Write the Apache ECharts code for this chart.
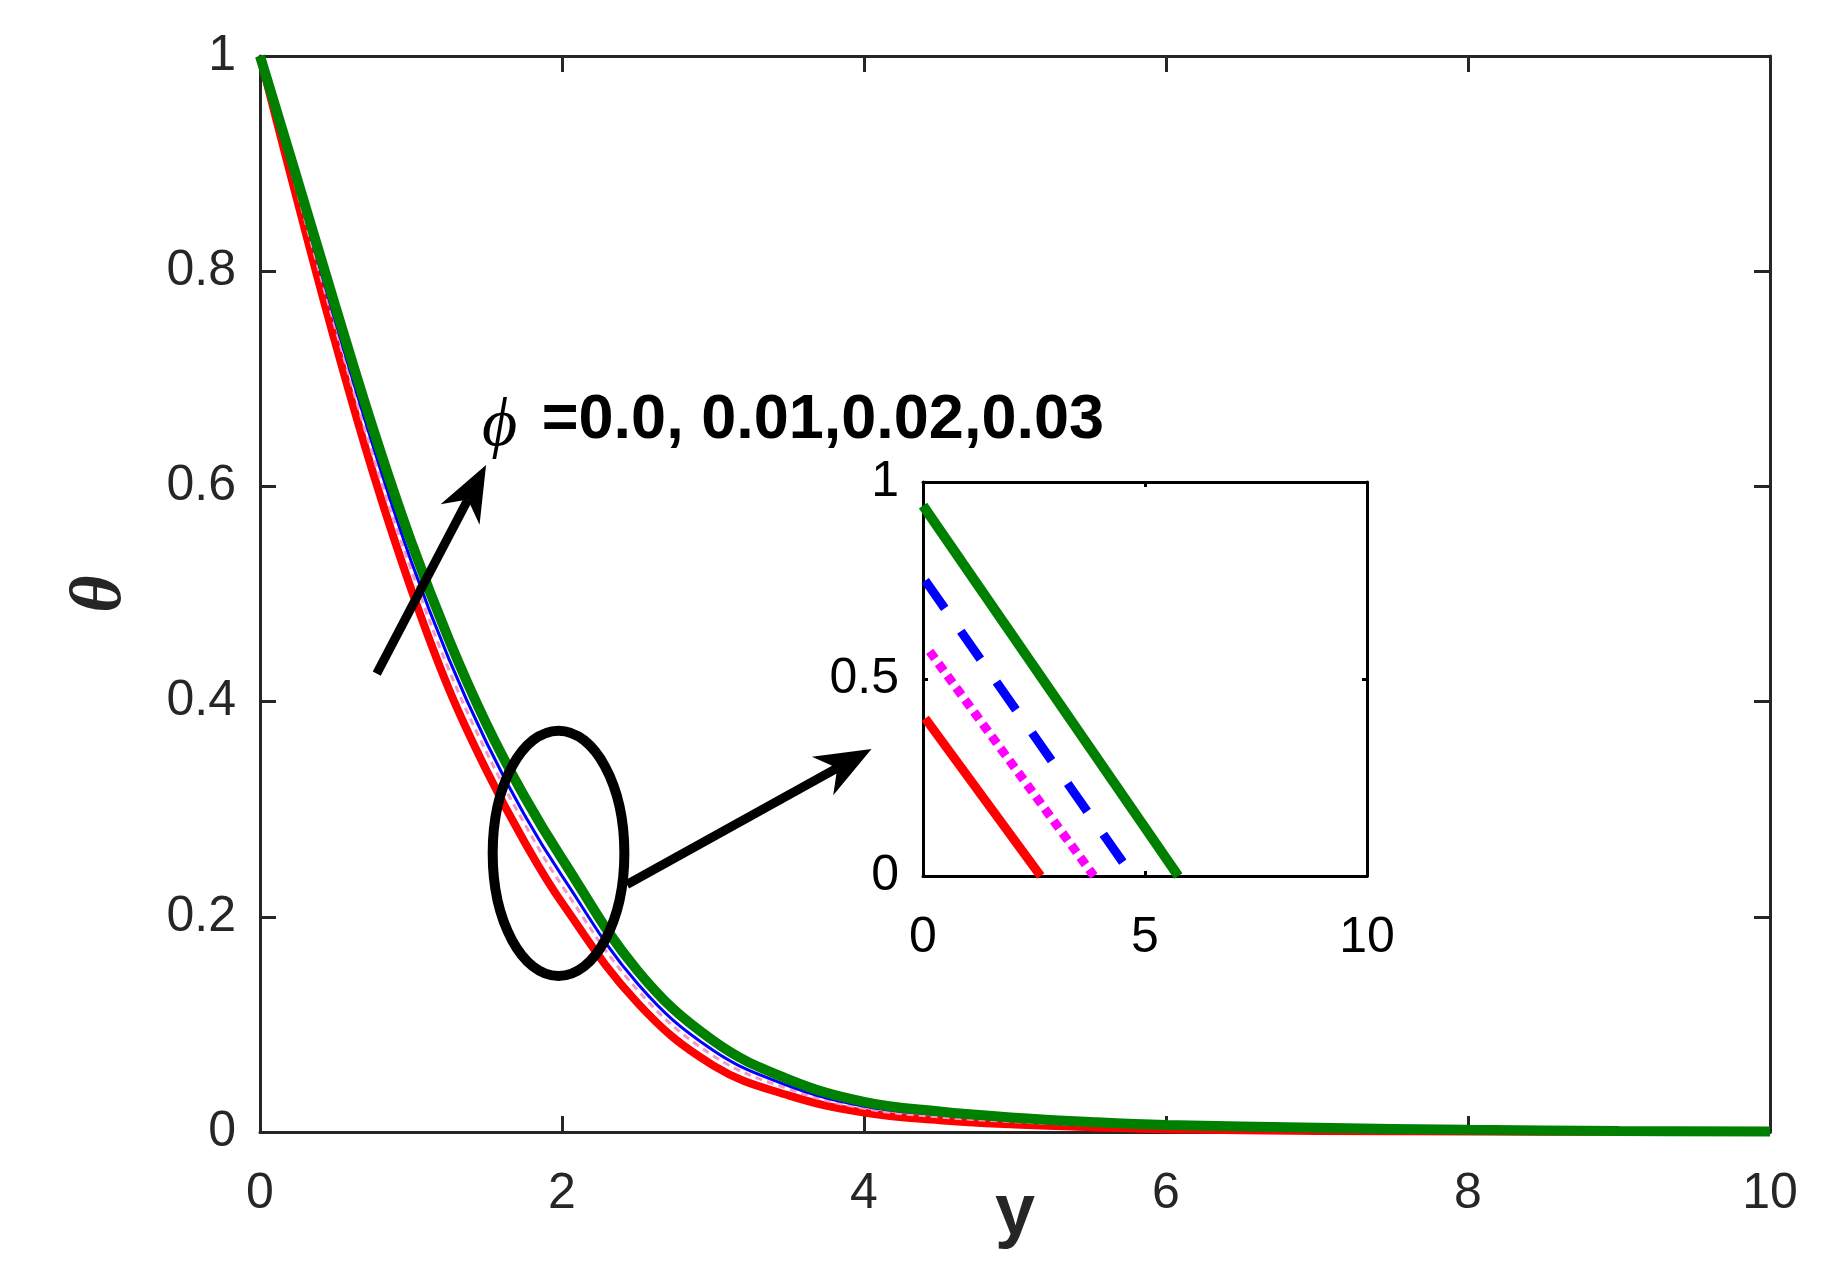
<!DOCTYPE html>
<html>
<head>
<meta charset="utf-8">
<script src="https://cdn.jsdelivr.net/npm/echarts@6/dist/echarts.min.js"></script>
<style>
  html, body { margin: 0; padding: 0; background: #fff; }
  #chart { width: 1834px; height: 1277px; }
</style>
</head>
<body>
<div id="chart"></div>
<script>
// values
const yPos = [0, 0.25, 0.5, 0.75, 1, 1.25, 1.5, 1.75, 2, 2.5, 3, 3.5, 4, 4.5, 5, 5.5, 6, 7, 8, 9, 10];
const thetaRed     = [1, 0.864, 0.733, 0.612, 0.505, 0.412, 0.336, 0.270, 0.213, 0.120, 0.062, 0.034, 0.018, 0.011, 0.007, 0.0045, 0.0025, 0.001, 0.0005, 0.0002, 0];
const thetaMagenta = [1, 0.872, 0.747, 0.628, 0.523, 0.430, 0.353, 0.287, 0.229, 0.132, 0.071, 0.040, 0.022, 0.014, 0.0095, 0.0065, 0.004, 0.002, 0.001, 0.0005, 0.0002];
const thetaBlue    = [1, 0.876, 0.753, 0.637, 0.531, 0.440, 0.362, 0.295, 0.238, 0.138, 0.076, 0.043, 0.024, 0.016, 0.011, 0.0075, 0.005, 0.0025, 0.0012, 0.0006, 0.0003];
const thetaGreen   = [1, 0.884, 0.767, 0.653, 0.549, 0.458, 0.379, 0.312, 0.254, 0.150, 0.085, 0.049, 0.028, 0.019, 0.0133, 0.0093, 0.0065, 0.004, 0.002, 0.001, 0.0005];

// inset (legend-like zoom box) segments
const insetRed     = [[0.05, 0.40], [2.65, 0]];
const insetMagenta = [[0.15, 0.57], [3.85, 0]];
const insetBlue    = [[0.05, 0.75], [4.72, 0]];
const insetGreen   = [[0.0, 0.94], [5.75, 0]];

const xTicks = [0, 2, 4, 6, 8, 10];
const yTicks = [0, 0.2, 0.4, 0.6, 0.8, 1];

const annotationText = '=0.0, 0.01,0.02,0.03';

const AX = '#262626';
const SANS = 'Liberation Sans, Arial, Helvetica, sans-serif';

function pair(xs, ys) {
    return xs.map((x, i) => [x, ys[i]]);
}

const chart = echarts.init(document.getElementById('chart'));

function mainAxisX(pos, show) {
    return {
        type: 'value', gridIndex: 0, position: pos,
        min: xTicks[0], max: xTicks[xTicks.length - 1], interval: 2,
        axisLine: { show: true, onZero: false, lineStyle: { color: AX, width: 3 } },
        axisTick: { show: true, inside: true, length: 16, lineStyle: { color: AX, width: 3 } },
        axisLabel: { show: show, margin: 37, fontSize: 50, color: AX, fontFamily: SANS },
        splitLine: { show: false }
    };
}
function mainAxisY(pos, show) {
    return {
        type: 'value', gridIndex: 0, position: pos,
        min: yTicks[0], max: yTicks[yTicks.length - 1], interval: 0.2,
        axisLine: { show: true, onZero: false, lineStyle: { color: AX, width: 3 } },
        axisTick: { show: true, inside: true, length: 16, lineStyle: { color: AX, width: 3 } },
        axisLabel: { show: show, margin: 24, fontSize: 50, color: AX, fontFamily: SANS },
        splitLine: { show: false }
    };
}
function insetAxisX(pos, show) {
    return {
        type: 'value', gridIndex: 1, position: pos,
        min: 0, max: 10, interval: 5,
        axisLine: { show: true, onZero: false, lineStyle: { color: '#000', width: 3 } },
        axisTick: { show: true, inside: true, length: 5, lineStyle: { color: '#000', width: 3 } },
        axisLabel: { show: show, margin: 37, fontSize: 50, color: '#000', fontFamily: SANS },
        splitLine: { show: false }
    };
}
function insetAxisY(pos, show) {
    return {
        type: 'value', gridIndex: 1, position: pos,
        min: 0, max: 1, interval: 0.5,
        axisLine: { show: true, onZero: false, lineStyle: { color: '#000', width: 3 } },
        axisTick: { show: true, inside: true, length: 5, lineStyle: { color: '#000', width: 3 } },
        axisLabel: { show: show, margin: 24, fontSize: 50, color: '#000', fontFamily: SANS },
        splitLine: { show: false }
    };
}

const xMain = mainAxisX('bottom', true);
xMain.name = 'y';
xMain.nameLocation = 'middle';
xMain.nameGap = 46;
xMain.nameMoveOverlap = false;
xMain.nameTextStyle = { fontSize: 72, fontWeight: 'bold', color: AX, fontFamily: SANS };

const yMain = mainAxisY('left', true);
yMain.name = 'θ';
yMain.nameLocation = 'middle';
yMain.nameGap = 123;
yMain.nameMoveOverlap = false;
yMain.nameTextStyle = { fontSize: 72, fontWeight: 'bold', fontStyle: 'italic', color: AX, fontFamily: 'Liberation Serif, Times New Roman, serif' };

function line(name, data, color, width, type, xi, yi) {
    return {
        name: name, type: 'line', xAxisIndex: xi, yAxisIndex: yi,
        data: data, showSymbol: false, symbol: 'none',
        smooth: xi === 0 ? 0.4 : false,
        lineStyle: { color: color, width: width, type: type, cap: 'butt' },
        animation: false, silent: true
    };
}

chart.setOption({
    animation: false,
    backgroundColor: '#fff',
    grid: [
        { left: 260, top: 56, width: 1510, height: 1076, containLabel: false, outerBoundsMode: 'none' },
        { left: 923, top: 482, width: 444, height: 394, containLabel: false, outerBoundsMode: 'none', backgroundColor: '#fff', show: true, borderWidth: 0 }
    ],
    xAxis: [xMain, mainAxisX('top', false), insetAxisX('bottom', true), insetAxisX('top', false)],
    yAxis: [yMain, mainAxisY('right', false), insetAxisY('left', true), insetAxisY('right', false)],
    series: [
        line('0.0', pair(yPos, thetaRed), '#ff0000', 8, 'solid', 0, 0),
        line('0.01', pair(yPos, thetaMagenta), '#f598c8', 3, [7, 5], 0, 0),
        line('0.02', pair(yPos, thetaBlue), '#0000ff', 3, 'solid', 0, 0),
        line('0.03', pair(yPos, thetaGreen), '#008000', 10, 'solid', 0, 0),
        line('in0.0', insetRed, '#ff0000', 9, 'solid', 2, 2),
        line('in0.01', insetMagenta, '#ff00ff', 9, [9, 6], 2, 2),
        line('in0.02', insetBlue, '#0000ff', 9, [34, 28], 2, 2),
        line('in0.03', insetGreen, '#008000', 10, 'solid', 2, 2)
    ]
});

// annotations anchored in data coordinates of the main axes
function px(p) {
    return chart.convertToPixel({ gridIndex: 0 }, p);
}
function arrow(tail, tip) {
    const a = px(tail), b = px(tip);
    const dx = b[0] - a[0], dy = b[1] - a[1];
    const len = Math.sqrt(dx * dx + dy * dy);
    const ux = dx / len, uy = dy / len, nx = -uy, ny = ux;
    const L = 56, W = 22;
    const notch = [b[0] - ux * L * 0.7, b[1] - uy * L * 0.7];
    return [
        { type: 'line', shape: { x1: a[0], y1: a[1], x2: notch[0], y2: notch[1] }, style: { stroke: '#000', lineWidth: 9 }, z: 100 },
        { type: 'polygon', shape: { points: [b, [b[0] - ux * L + nx * W, b[1] - uy * L + ny * W], notch, [b[0] - ux * L - nx * W, b[1] - uy * L - ny * W]] }, style: { fill: '#000' }, z: 100 }
    ];
}

const ec = px([1.977, 0.259]);
const er = px([1.977 + 0.436, 0.259 + 0.114]);
const phiPos = px([1.47, 0.661]);
const eqPos = px([1.866, 0.661]);

chart.setOption({
    graphic: [
        { type: 'ellipse', shape: { cx: ec[0], cy: ec[1], rx: er[0] - ec[0], ry: ec[1] - er[1] }, style: { fill: null, stroke: '#000', lineWidth: 10 }, z: 100 },
        ...arrow([0.773, 0.426], [1.497, 0.620]),
        ...arrow([2.43, 0.230], [4.05, 0.356]),
        { type: 'text', x: phiPos[0], y: phiPos[1] + 6, style: { text: 'ϕ', font: 'italic 68px "Liberation Serif", serif', fill: '#000', verticalAlign: 'middle', align: 'left' }, z: 100 },
        { type: 'text', x: eqPos[0], y: eqPos[1], style: { text: annotationText, font: 'bold 63px "Liberation Sans", Arial, sans-serif', fill: '#000', verticalAlign: 'middle', align: 'left' }, z: 100 }
    ]
});
</script>
</body>
</html>
